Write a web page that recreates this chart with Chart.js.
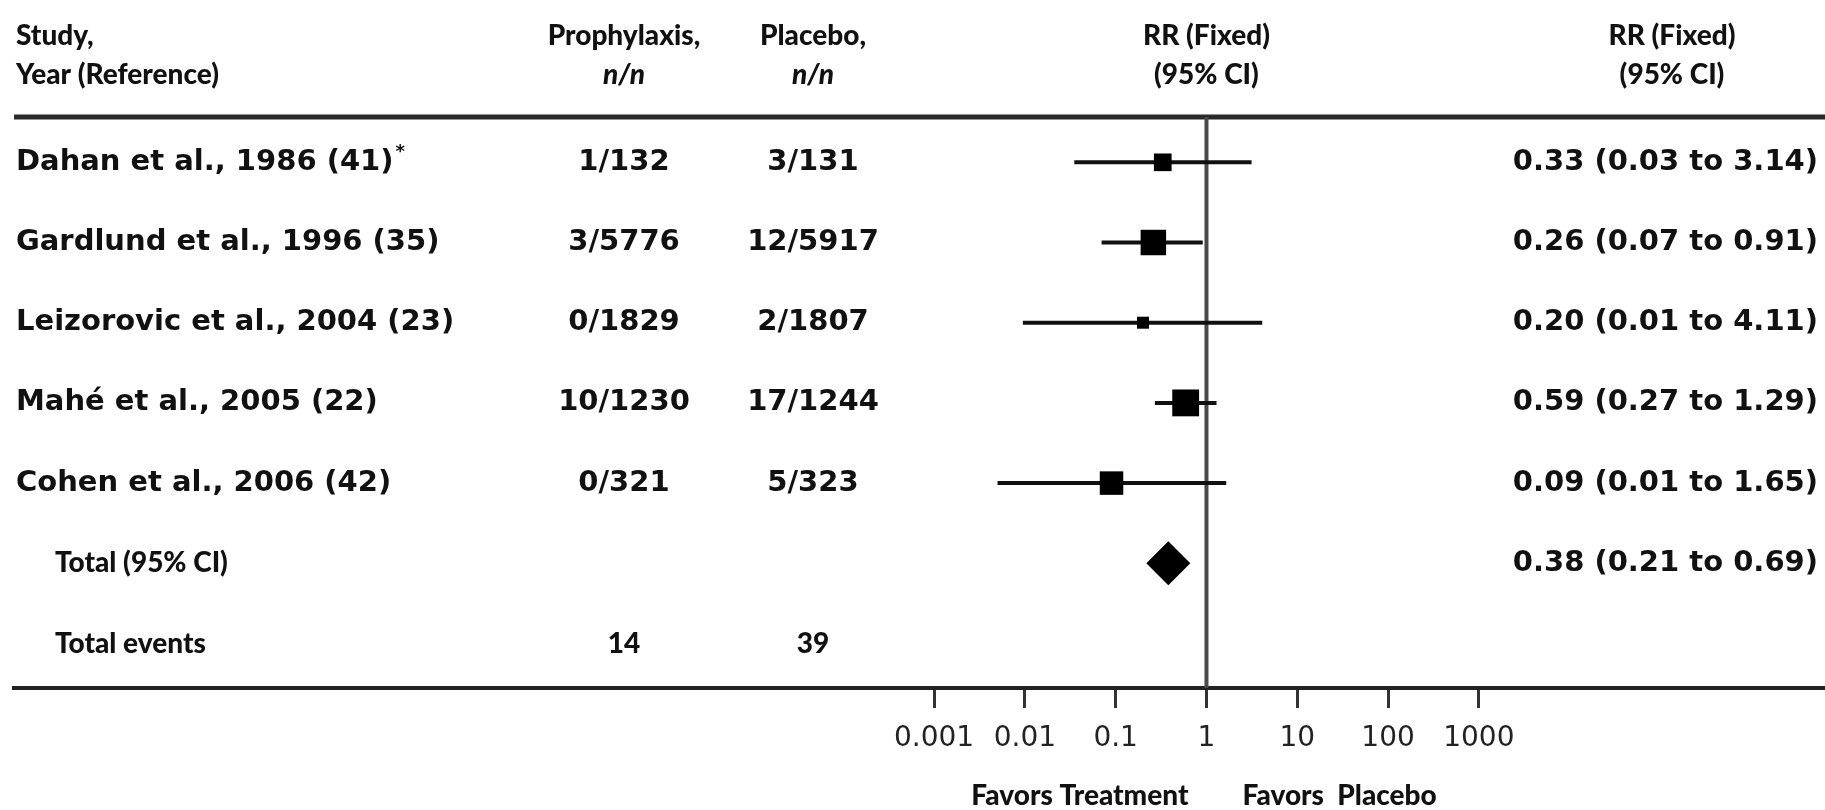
<!DOCTYPE html>
<html>
<head>
<meta charset="utf-8">
<title>Forest plot</title>
<script src="https://cdn.jsdelivr.net/npm/chart.js@4.4.1/dist/chart.umd.min.js"></script>
<style>
  html, body { margin: 0; padding: 0; background: #fff; }
  canvas { display: block; }
</style>
</head>
<body>
<canvas id="forest" width="1825" height="810"></canvas>
<script>
// --- data ---
const studies = ['Dahan et al., 1986 (41)', 'Gardlund et al., 1996 (35)', 'Leizorovic et al., 2004 (23)', 'Mahé et al., 2005 (22)', 'Cohen et al., 2006 (42)'];
const footnotes = ['*', '', '', '', ''];
const prophylaxisEvents = [1, 3, 0, 10, 0];
const prophylaxisTotals = [132, 5776, 1829, 1230, 321];
const placeboEvents = [3, 12, 2, 17, 5];
const placeboTotals = [131, 5917, 1807, 1244, 323];
const rr = [0.33, 0.26, 0.20, 0.59, 0.09];
const ciLow = [0.035, 0.07, 0.0095, 0.27, 0.005];
const ciHigh = [3.14, 0.91, 4.11, 1.29, 1.65];
const weights = [13, 27, 6, 30, 23]; // % weight
const rrText = ['0.33 (0.03 to 3.14)', '0.26 (0.07 to 0.91)', '0.20 (0.01 to 4.11)', '0.59 (0.27 to 1.29)', '0.09 (0.01 to 1.65)'];
const totalRR = 0.38;
const totalLow = 0.21;
const totalHigh = 0.69;
const totalText = '0.38 (0.21 to 0.69)';
const tickValues = [0.001, 0.01, 0.1, 1, 10, 100, 1000];
const tickLabels = ['0.001', '0.01', '0.1', '1', '10', '100', '1000'];

// --- layout / style ---
const TOTAL_ROW = studies.length;
const EVENTS_ROW = studies.length + 1;
const ink = '#111';
const headFont = '900 28px Lato';
const headItalic = 'italic 900 28px Lato';
const rowFont = 'bold 29px "DejaVu Sans"';
const col = { study: 16, indent: 55, prophylaxis: 624, placebo: 813, rrRight: 1818, rrHead: 1672 };
const boxScale = 4.9;

const ciSets = studies.map((s, i) => ({
    type: 'line',
    data: [{ x: ciLow[i], y: i }, { x: ciHigh[i], y: i }],
    borderColor: ink,
    borderWidth: 4,
    pointRadius: 0,
    showLine: true,
    order: 3
}));

const boxSet = {
    type: 'scatter',
    data: rr.map((v, i) => ({ x: v, y: i })),
    pointStyle: 'rect',
    pointRadius: weights.map(w => boxScale * Math.sqrt(w) / 2 / Math.SQRT1_2),
    backgroundColor: '#000',
    borderWidth: 0,
    order: 1
};

const totalSet = {
    type: 'scatter',
    data: [{ x: totalRR, y: TOTAL_ROW }],
    pointStyle: 'rectRot',
    pointRadius: 22,
    backgroundColor: '#000',
    borderWidth: 0,
    order: 1
};

// rules, the line of no effect and all the table text
const forestText = {
    id: 'forestText',
    beforeDatasetsDraw(chart) {
        const { ctx, chartArea, scales: { x } } = chart;
        ctx.save();
        ctx.strokeStyle = '#2a2a2a';
        ctx.lineWidth = 5;
        ctx.beginPath();
        ctx.moveTo(chartArea.left, chartArea.top);
        ctx.lineTo(chartArea.right, chartArea.top);
        ctx.stroke();

        const x1 = x.getPixelForValue(1);
        ctx.strokeStyle = '#4a4a4a';
        ctx.lineWidth = 4;
        ctx.beginPath();
        ctx.moveTo(x1, chartArea.top);
        ctx.lineTo(x1, chartArea.bottom);
        ctx.stroke();
        ctx.restore();
    },
    afterDraw(chart) {
        const { ctx, chartArea, scales: { x, y } } = chart;
        const x1 = x.getPixelForValue(1);
        ctx.save();
        ctx.fillStyle = ink;
        ctx.textBaseline = 'middle';

        // header
        const h1 = 36, h2 = 75;
        ctx.font = headFont;
        ctx.textAlign = 'left';
        ctx.fillText('Study,', col.study, h1);
        ctx.fillText('Year (Reference)', col.study, h2);
        ctx.textAlign = 'center';
        ctx.fillText('Prophylaxis,', col.prophylaxis, h1);
        ctx.fillText('Placebo,', col.placebo, h1);
        ctx.fillText('RR (Fixed)', x1, h1);
        ctx.fillText('(95% CI)', x1, h2);
        ctx.fillText('RR (Fixed)', col.rrHead, h1);
        ctx.fillText('(95% CI)', col.rrHead, h2);
        ctx.font = headItalic;
        ctx.fillText('n/n', col.prophylaxis, h2);
        ctx.fillText('n/n', col.placebo, h2);

        // study rows
        studies.forEach((name, i) => {
            const yy = y.getPixelForValue(i);
            ctx.font = rowFont;
            ctx.textAlign = 'left';
            ctx.fillText(name, col.study, yy);
            if (footnotes[i]) {
                const w = ctx.measureText(name).width;
                ctx.font = 'bold 18px "DejaVu Sans"';
                ctx.fillText(footnotes[i], col.study + w + 2, yy - 10);
                ctx.font = rowFont;
            }
            ctx.textAlign = 'center';
            ctx.fillText(prophylaxisEvents[i] + '/' + prophylaxisTotals[i], col.prophylaxis, yy);
            ctx.fillText(placeboEvents[i] + '/' + placeboTotals[i], col.placebo, yy);
            ctx.textAlign = 'right';
            ctx.fillText(rrText[i], col.rrRight, yy);
        });

        // totals
        const yt = y.getPixelForValue(TOTAL_ROW);
        const ye = y.getPixelForValue(EVENTS_ROW);
        ctx.font = headFont;
        ctx.textAlign = 'left';
        ctx.fillText('Total (95% CI)', col.indent, yt);
        ctx.fillText('Total events', col.indent, ye);
        ctx.textAlign = 'center';
        ctx.fillText(String(prophylaxisEvents.reduce((a, b) => a + b, 0)), col.prophylaxis, ye);
        ctx.fillText(String(placeboEvents.reduce((a, b) => a + b, 0)), col.placebo, ye);
        ctx.font = rowFont;
        ctx.textAlign = 'right';
        ctx.fillText(totalText, col.rrRight, yt);

        // favours labels under the axis
        ctx.font = headFont;
        ctx.textBaseline = 'alphabetic';
        ctx.textAlign = 'right';
        ctx.fillText('Favors Treatment', x1 - 18, chartArea.bottom + 117);
        ctx.textAlign = 'left';
        ctx.fillText('Favors  Placebo', x1 + 36, chartArea.bottom + 117);
        ctx.restore();
    }
};

new Chart(document.getElementById('forest'), {
    data: { datasets: [...ciSets, boxSet, totalSet] },
    options: {
        responsive: false,
        animation: false,
        devicePixelRatio: 1,
        layout: { autoPadding: false, padding: { top: 117, left: 14, right: 0, bottom: 0 } },
        plugins: { legend: { display: false }, tooltip: { enabled: false } },
        scales: {
            x: {
                type: 'logarithmic',
                position: 'bottom',
                min: Math.pow(10, -13.133),
                max: Math.pow(10, 6.812),
                afterBuildTicks: s => { s.ticks = tickValues.map(v => ({ value: v })); },
                afterFit: s => { s.height = 122; },
                grid: { display: true, drawOnChartArea: false, drawTicks: true, tickLength: 20, tickColor: '#333', tickWidth: 3 },
                border: { display: true, color: '#222', width: 4 },
                ticks: {
                    callback: (v, i) => tickLabels[i],
                    font: { family: 'DejaVu Sans', size: 28 },
                    color: '#222',
                    padding: 14,
                    maxRotation: 0,
                    autoSkip: false
                }
            },
            y: { type: 'linear', reverse: true, min: -0.565, max: 6.555, display: false }
        }
    },
    plugins: [forestText]
});
</script>
</body>
</html>
